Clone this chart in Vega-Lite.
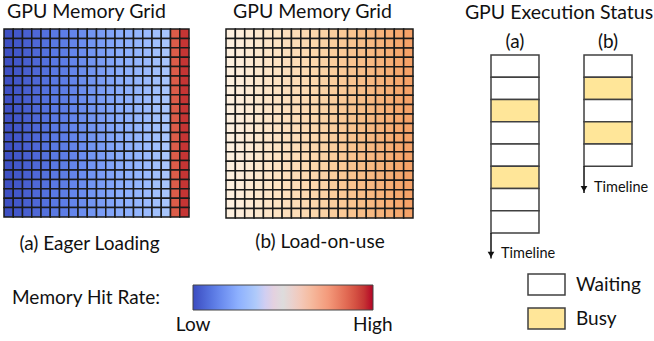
{
"$schema":"https://vega.github.io/schema/vega-lite/v6.json",
"background":"white",
"padding":{"left":3,"top":1,"right":0,"bottom":0},
"config":{"font":"Lato","view":{"stroke":null},"title":{"fontWeight":"normal","color":"#111"},"axis":{"titleColor":"#111","labelColor":"#111"},"legend":{"labelColor":"#111","titleColor":"#111"}},
"datasets":{
"gridA":[
{"r":1,"c":1,"v":0.01},{"r":1,"c":2,"v":0.03},{"r":1,"c":3,"v":0.05},{"r":1,"c":4,"v":0.07},{"r":1,"c":5,"v":0.09},{"r":1,"c":6,"v":0.11},{"r":1,"c":7,"v":0.12},{"r":1,"c":8,"v":0.14},{"r":1,"c":9,"v":0.16},{"r":1,"c":10,"v":0.18},{"r":1,"c":11,"v":0.2},{"r":1,"c":12,"v":0.22},{"r":1,"c":13,"v":0.24},{"r":1,"c":14,"v":0.25},{"r":1,"c":15,"v":0.27},{"r":1,"c":16,"v":0.29},{"r":1,"c":17,"v":0.31},{"r":1,"c":18,"v":0.33},{"r":1,"c":19,"v":0.88},{"r":1,"c":20,"v":0.95},
{"r":2,"c":1,"v":0.01},{"r":2,"c":2,"v":0.03},{"r":2,"c":3,"v":0.05},{"r":2,"c":4,"v":0.07},{"r":2,"c":5,"v":0.09},{"r":2,"c":6,"v":0.11},{"r":2,"c":7,"v":0.12},{"r":2,"c":8,"v":0.14},{"r":2,"c":9,"v":0.16},{"r":2,"c":10,"v":0.18},{"r":2,"c":11,"v":0.2},{"r":2,"c":12,"v":0.22},{"r":2,"c":13,"v":0.24},{"r":2,"c":14,"v":0.25},{"r":2,"c":15,"v":0.27},{"r":2,"c":16,"v":0.29},{"r":2,"c":17,"v":0.31},{"r":2,"c":18,"v":0.33},{"r":2,"c":19,"v":0.88},{"r":2,"c":20,"v":0.95},
{"r":3,"c":1,"v":0.01},{"r":3,"c":2,"v":0.03},{"r":3,"c":3,"v":0.05},{"r":3,"c":4,"v":0.07},{"r":3,"c":5,"v":0.09},{"r":3,"c":6,"v":0.11},{"r":3,"c":7,"v":0.12},{"r":3,"c":8,"v":0.14},{"r":3,"c":9,"v":0.16},{"r":3,"c":10,"v":0.18},{"r":3,"c":11,"v":0.2},{"r":3,"c":12,"v":0.22},{"r":3,"c":13,"v":0.24},{"r":3,"c":14,"v":0.25},{"r":3,"c":15,"v":0.27},{"r":3,"c":16,"v":0.29},{"r":3,"c":17,"v":0.31},{"r":3,"c":18,"v":0.33},{"r":3,"c":19,"v":0.88},{"r":3,"c":20,"v":0.95},
{"r":4,"c":1,"v":0.01},{"r":4,"c":2,"v":0.03},{"r":4,"c":3,"v":0.05},{"r":4,"c":4,"v":0.07},{"r":4,"c":5,"v":0.09},{"r":4,"c":6,"v":0.11},{"r":4,"c":7,"v":0.12},{"r":4,"c":8,"v":0.14},{"r":4,"c":9,"v":0.16},{"r":4,"c":10,"v":0.18},{"r":4,"c":11,"v":0.2},{"r":4,"c":12,"v":0.22},{"r":4,"c":13,"v":0.24},{"r":4,"c":14,"v":0.25},{"r":4,"c":15,"v":0.27},{"r":4,"c":16,"v":0.29},{"r":4,"c":17,"v":0.31},{"r":4,"c":18,"v":0.33},{"r":4,"c":19,"v":0.88},{"r":4,"c":20,"v":0.95},
{"r":5,"c":1,"v":0.01},{"r":5,"c":2,"v":0.03},{"r":5,"c":3,"v":0.05},{"r":5,"c":4,"v":0.07},{"r":5,"c":5,"v":0.09},{"r":5,"c":6,"v":0.11},{"r":5,"c":7,"v":0.12},{"r":5,"c":8,"v":0.14},{"r":5,"c":9,"v":0.16},{"r":5,"c":10,"v":0.18},{"r":5,"c":11,"v":0.2},{"r":5,"c":12,"v":0.22},{"r":5,"c":13,"v":0.24},{"r":5,"c":14,"v":0.25},{"r":5,"c":15,"v":0.27},{"r":5,"c":16,"v":0.29},{"r":5,"c":17,"v":0.31},{"r":5,"c":18,"v":0.33},{"r":5,"c":19,"v":0.88},{"r":5,"c":20,"v":0.95},
{"r":6,"c":1,"v":0.01},{"r":6,"c":2,"v":0.03},{"r":6,"c":3,"v":0.05},{"r":6,"c":4,"v":0.07},{"r":6,"c":5,"v":0.09},{"r":6,"c":6,"v":0.11},{"r":6,"c":7,"v":0.12},{"r":6,"c":8,"v":0.14},{"r":6,"c":9,"v":0.16},{"r":6,"c":10,"v":0.18},{"r":6,"c":11,"v":0.2},{"r":6,"c":12,"v":0.22},{"r":6,"c":13,"v":0.24},{"r":6,"c":14,"v":0.25},{"r":6,"c":15,"v":0.27},{"r":6,"c":16,"v":0.29},{"r":6,"c":17,"v":0.31},{"r":6,"c":18,"v":0.33},{"r":6,"c":19,"v":0.88},{"r":6,"c":20,"v":0.95},
{"r":7,"c":1,"v":0.01},{"r":7,"c":2,"v":0.03},{"r":7,"c":3,"v":0.05},{"r":7,"c":4,"v":0.07},{"r":7,"c":5,"v":0.09},{"r":7,"c":6,"v":0.11},{"r":7,"c":7,"v":0.12},{"r":7,"c":8,"v":0.14},{"r":7,"c":9,"v":0.16},{"r":7,"c":10,"v":0.18},{"r":7,"c":11,"v":0.2},{"r":7,"c":12,"v":0.22},{"r":7,"c":13,"v":0.24},{"r":7,"c":14,"v":0.25},{"r":7,"c":15,"v":0.27},{"r":7,"c":16,"v":0.29},{"r":7,"c":17,"v":0.31},{"r":7,"c":18,"v":0.33},{"r":7,"c":19,"v":0.88},{"r":7,"c":20,"v":0.95},
{"r":8,"c":1,"v":0.01},{"r":8,"c":2,"v":0.03},{"r":8,"c":3,"v":0.05},{"r":8,"c":4,"v":0.07},{"r":8,"c":5,"v":0.09},{"r":8,"c":6,"v":0.11},{"r":8,"c":7,"v":0.12},{"r":8,"c":8,"v":0.14},{"r":8,"c":9,"v":0.16},{"r":8,"c":10,"v":0.18},{"r":8,"c":11,"v":0.2},{"r":8,"c":12,"v":0.22},{"r":8,"c":13,"v":0.24},{"r":8,"c":14,"v":0.25},{"r":8,"c":15,"v":0.27},{"r":8,"c":16,"v":0.29},{"r":8,"c":17,"v":0.31},{"r":8,"c":18,"v":0.33},{"r":8,"c":19,"v":0.88},{"r":8,"c":20,"v":0.95},
{"r":9,"c":1,"v":0.01},{"r":9,"c":2,"v":0.03},{"r":9,"c":3,"v":0.05},{"r":9,"c":4,"v":0.07},{"r":9,"c":5,"v":0.09},{"r":9,"c":6,"v":0.11},{"r":9,"c":7,"v":0.12},{"r":9,"c":8,"v":0.14},{"r":9,"c":9,"v":0.16},{"r":9,"c":10,"v":0.18},{"r":9,"c":11,"v":0.2},{"r":9,"c":12,"v":0.22},{"r":9,"c":13,"v":0.24},{"r":9,"c":14,"v":0.25},{"r":9,"c":15,"v":0.27},{"r":9,"c":16,"v":0.29},{"r":9,"c":17,"v":0.31},{"r":9,"c":18,"v":0.33},{"r":9,"c":19,"v":0.88},{"r":9,"c":20,"v":0.95},
{"r":10,"c":1,"v":0.01},{"r":10,"c":2,"v":0.03},{"r":10,"c":3,"v":0.05},{"r":10,"c":4,"v":0.07},{"r":10,"c":5,"v":0.09},{"r":10,"c":6,"v":0.11},{"r":10,"c":7,"v":0.12},{"r":10,"c":8,"v":0.14},{"r":10,"c":9,"v":0.16},{"r":10,"c":10,"v":0.18},{"r":10,"c":11,"v":0.2},{"r":10,"c":12,"v":0.22},{"r":10,"c":13,"v":0.24},{"r":10,"c":14,"v":0.25},{"r":10,"c":15,"v":0.27},{"r":10,"c":16,"v":0.29},{"r":10,"c":17,"v":0.31},{"r":10,"c":18,"v":0.33},{"r":10,"c":19,"v":0.88},{"r":10,"c":20,"v":0.95},
{"r":11,"c":1,"v":0.01},{"r":11,"c":2,"v":0.03},{"r":11,"c":3,"v":0.05},{"r":11,"c":4,"v":0.07},{"r":11,"c":5,"v":0.09},{"r":11,"c":6,"v":0.11},{"r":11,"c":7,"v":0.12},{"r":11,"c":8,"v":0.14},{"r":11,"c":9,"v":0.16},{"r":11,"c":10,"v":0.18},{"r":11,"c":11,"v":0.2},{"r":11,"c":12,"v":0.22},{"r":11,"c":13,"v":0.24},{"r":11,"c":14,"v":0.25},{"r":11,"c":15,"v":0.27},{"r":11,"c":16,"v":0.29},{"r":11,"c":17,"v":0.31},{"r":11,"c":18,"v":0.33},{"r":11,"c":19,"v":0.88},{"r":11,"c":20,"v":0.95},
{"r":12,"c":1,"v":0.01},{"r":12,"c":2,"v":0.03},{"r":12,"c":3,"v":0.05},{"r":12,"c":4,"v":0.07},{"r":12,"c":5,"v":0.09},{"r":12,"c":6,"v":0.11},{"r":12,"c":7,"v":0.12},{"r":12,"c":8,"v":0.14},{"r":12,"c":9,"v":0.16},{"r":12,"c":10,"v":0.18},{"r":12,"c":11,"v":0.2},{"r":12,"c":12,"v":0.22},{"r":12,"c":13,"v":0.24},{"r":12,"c":14,"v":0.25},{"r":12,"c":15,"v":0.27},{"r":12,"c":16,"v":0.29},{"r":12,"c":17,"v":0.31},{"r":12,"c":18,"v":0.33},{"r":12,"c":19,"v":0.88},{"r":12,"c":20,"v":0.95},
{"r":13,"c":1,"v":0.01},{"r":13,"c":2,"v":0.03},{"r":13,"c":3,"v":0.05},{"r":13,"c":4,"v":0.07},{"r":13,"c":5,"v":0.09},{"r":13,"c":6,"v":0.11},{"r":13,"c":7,"v":0.12},{"r":13,"c":8,"v":0.14},{"r":13,"c":9,"v":0.16},{"r":13,"c":10,"v":0.18},{"r":13,"c":11,"v":0.2},{"r":13,"c":12,"v":0.22},{"r":13,"c":13,"v":0.24},{"r":13,"c":14,"v":0.25},{"r":13,"c":15,"v":0.27},{"r":13,"c":16,"v":0.29},{"r":13,"c":17,"v":0.31},{"r":13,"c":18,"v":0.33},{"r":13,"c":19,"v":0.88},{"r":13,"c":20,"v":0.95},
{"r":14,"c":1,"v":0.01},{"r":14,"c":2,"v":0.03},{"r":14,"c":3,"v":0.05},{"r":14,"c":4,"v":0.07},{"r":14,"c":5,"v":0.09},{"r":14,"c":6,"v":0.11},{"r":14,"c":7,"v":0.12},{"r":14,"c":8,"v":0.14},{"r":14,"c":9,"v":0.16},{"r":14,"c":10,"v":0.18},{"r":14,"c":11,"v":0.2},{"r":14,"c":12,"v":0.22},{"r":14,"c":13,"v":0.24},{"r":14,"c":14,"v":0.25},{"r":14,"c":15,"v":0.27},{"r":14,"c":16,"v":0.29},{"r":14,"c":17,"v":0.31},{"r":14,"c":18,"v":0.33},{"r":14,"c":19,"v":0.88},{"r":14,"c":20,"v":0.95},
{"r":15,"c":1,"v":0.01},{"r":15,"c":2,"v":0.03},{"r":15,"c":3,"v":0.05},{"r":15,"c":4,"v":0.07},{"r":15,"c":5,"v":0.09},{"r":15,"c":6,"v":0.11},{"r":15,"c":7,"v":0.12},{"r":15,"c":8,"v":0.14},{"r":15,"c":9,"v":0.16},{"r":15,"c":10,"v":0.18},{"r":15,"c":11,"v":0.2},{"r":15,"c":12,"v":0.22},{"r":15,"c":13,"v":0.24},{"r":15,"c":14,"v":0.25},{"r":15,"c":15,"v":0.27},{"r":15,"c":16,"v":0.29},{"r":15,"c":17,"v":0.31},{"r":15,"c":18,"v":0.33},{"r":15,"c":19,"v":0.88},{"r":15,"c":20,"v":0.95},
{"r":16,"c":1,"v":0.01},{"r":16,"c":2,"v":0.03},{"r":16,"c":3,"v":0.05},{"r":16,"c":4,"v":0.07},{"r":16,"c":5,"v":0.09},{"r":16,"c":6,"v":0.11},{"r":16,"c":7,"v":0.12},{"r":16,"c":8,"v":0.14},{"r":16,"c":9,"v":0.16},{"r":16,"c":10,"v":0.18},{"r":16,"c":11,"v":0.2},{"r":16,"c":12,"v":0.22},{"r":16,"c":13,"v":0.24},{"r":16,"c":14,"v":0.25},{"r":16,"c":15,"v":0.27},{"r":16,"c":16,"v":0.29},{"r":16,"c":17,"v":0.31},{"r":16,"c":18,"v":0.33},{"r":16,"c":19,"v":0.88},{"r":16,"c":20,"v":0.95},
{"r":17,"c":1,"v":0.01},{"r":17,"c":2,"v":0.03},{"r":17,"c":3,"v":0.05},{"r":17,"c":4,"v":0.07},{"r":17,"c":5,"v":0.09},{"r":17,"c":6,"v":0.11},{"r":17,"c":7,"v":0.12},{"r":17,"c":8,"v":0.14},{"r":17,"c":9,"v":0.16},{"r":17,"c":10,"v":0.18},{"r":17,"c":11,"v":0.2},{"r":17,"c":12,"v":0.22},{"r":17,"c":13,"v":0.24},{"r":17,"c":14,"v":0.25},{"r":17,"c":15,"v":0.27},{"r":17,"c":16,"v":0.29},{"r":17,"c":17,"v":0.31},{"r":17,"c":18,"v":0.33},{"r":17,"c":19,"v":0.88},{"r":17,"c":20,"v":0.95},
{"r":18,"c":1,"v":0.01},{"r":18,"c":2,"v":0.03},{"r":18,"c":3,"v":0.05},{"r":18,"c":4,"v":0.07},{"r":18,"c":5,"v":0.09},{"r":18,"c":6,"v":0.11},{"r":18,"c":7,"v":0.12},{"r":18,"c":8,"v":0.14},{"r":18,"c":9,"v":0.16},{"r":18,"c":10,"v":0.18},{"r":18,"c":11,"v":0.2},{"r":18,"c":12,"v":0.22},{"r":18,"c":13,"v":0.24},{"r":18,"c":14,"v":0.25},{"r":18,"c":15,"v":0.27},{"r":18,"c":16,"v":0.29},{"r":18,"c":17,"v":0.31},{"r":18,"c":18,"v":0.33},{"r":18,"c":19,"v":0.88},{"r":18,"c":20,"v":0.95},
{"r":19,"c":1,"v":0.01},{"r":19,"c":2,"v":0.03},{"r":19,"c":3,"v":0.05},{"r":19,"c":4,"v":0.07},{"r":19,"c":5,"v":0.09},{"r":19,"c":6,"v":0.11},{"r":19,"c":7,"v":0.12},{"r":19,"c":8,"v":0.14},{"r":19,"c":9,"v":0.16},{"r":19,"c":10,"v":0.18},{"r":19,"c":11,"v":0.2},{"r":19,"c":12,"v":0.22},{"r":19,"c":13,"v":0.24},{"r":19,"c":14,"v":0.25},{"r":19,"c":15,"v":0.27},{"r":19,"c":16,"v":0.29},{"r":19,"c":17,"v":0.31},{"r":19,"c":18,"v":0.33},{"r":19,"c":19,"v":0.88},{"r":19,"c":20,"v":0.95},
{"r":20,"c":1,"v":0.01},{"r":20,"c":2,"v":0.03},{"r":20,"c":3,"v":0.05},{"r":20,"c":4,"v":0.07},{"r":20,"c":5,"v":0.09},{"r":20,"c":6,"v":0.11},{"r":20,"c":7,"v":0.12},{"r":20,"c":8,"v":0.14},{"r":20,"c":9,"v":0.16},{"r":20,"c":10,"v":0.18},{"r":20,"c":11,"v":0.2},{"r":20,"c":12,"v":0.22},{"r":20,"c":13,"v":0.24},{"r":20,"c":14,"v":0.25},{"r":20,"c":15,"v":0.27},{"r":20,"c":16,"v":0.29},{"r":20,"c":17,"v":0.31},{"r":20,"c":18,"v":0.33},{"r":20,"c":19,"v":0.88},{"r":20,"c":20,"v":0.95}
],
"gridB":[
{"r":1,"c":1,"v":0},{"r":1,"c":2,"v":0.05},{"r":1,"c":3,"v":0.11},{"r":1,"c":4,"v":0.16},{"r":1,"c":5,"v":0.21},{"r":1,"c":6,"v":0.26},{"r":1,"c":7,"v":0.32},{"r":1,"c":8,"v":0.37},{"r":1,"c":9,"v":0.42},{"r":1,"c":10,"v":0.47},{"r":1,"c":11,"v":0.53},{"r":1,"c":12,"v":0.58},{"r":1,"c":13,"v":0.63},{"r":1,"c":14,"v":0.68},{"r":1,"c":15,"v":0.74},{"r":1,"c":16,"v":0.79},{"r":1,"c":17,"v":0.84},{"r":1,"c":18,"v":0.89},{"r":1,"c":19,"v":0.95},{"r":1,"c":20,"v":1},
{"r":2,"c":1,"v":0},{"r":2,"c":2,"v":0.05},{"r":2,"c":3,"v":0.11},{"r":2,"c":4,"v":0.16},{"r":2,"c":5,"v":0.21},{"r":2,"c":6,"v":0.26},{"r":2,"c":7,"v":0.32},{"r":2,"c":8,"v":0.37},{"r":2,"c":9,"v":0.42},{"r":2,"c":10,"v":0.47},{"r":2,"c":11,"v":0.53},{"r":2,"c":12,"v":0.58},{"r":2,"c":13,"v":0.63},{"r":2,"c":14,"v":0.68},{"r":2,"c":15,"v":0.74},{"r":2,"c":16,"v":0.79},{"r":2,"c":17,"v":0.84},{"r":2,"c":18,"v":0.89},{"r":2,"c":19,"v":0.95},{"r":2,"c":20,"v":1},
{"r":3,"c":1,"v":0},{"r":3,"c":2,"v":0.05},{"r":3,"c":3,"v":0.11},{"r":3,"c":4,"v":0.16},{"r":3,"c":5,"v":0.21},{"r":3,"c":6,"v":0.26},{"r":3,"c":7,"v":0.32},{"r":3,"c":8,"v":0.37},{"r":3,"c":9,"v":0.42},{"r":3,"c":10,"v":0.47},{"r":3,"c":11,"v":0.53},{"r":3,"c":12,"v":0.58},{"r":3,"c":13,"v":0.63},{"r":3,"c":14,"v":0.68},{"r":3,"c":15,"v":0.74},{"r":3,"c":16,"v":0.79},{"r":3,"c":17,"v":0.84},{"r":3,"c":18,"v":0.89},{"r":3,"c":19,"v":0.95},{"r":3,"c":20,"v":1},
{"r":4,"c":1,"v":0},{"r":4,"c":2,"v":0.05},{"r":4,"c":3,"v":0.11},{"r":4,"c":4,"v":0.16},{"r":4,"c":5,"v":0.21},{"r":4,"c":6,"v":0.26},{"r":4,"c":7,"v":0.32},{"r":4,"c":8,"v":0.37},{"r":4,"c":9,"v":0.42},{"r":4,"c":10,"v":0.47},{"r":4,"c":11,"v":0.53},{"r":4,"c":12,"v":0.58},{"r":4,"c":13,"v":0.63},{"r":4,"c":14,"v":0.68},{"r":4,"c":15,"v":0.74},{"r":4,"c":16,"v":0.79},{"r":4,"c":17,"v":0.84},{"r":4,"c":18,"v":0.89},{"r":4,"c":19,"v":0.95},{"r":4,"c":20,"v":1},
{"r":5,"c":1,"v":0},{"r":5,"c":2,"v":0.05},{"r":5,"c":3,"v":0.11},{"r":5,"c":4,"v":0.16},{"r":5,"c":5,"v":0.21},{"r":5,"c":6,"v":0.26},{"r":5,"c":7,"v":0.32},{"r":5,"c":8,"v":0.37},{"r":5,"c":9,"v":0.42},{"r":5,"c":10,"v":0.47},{"r":5,"c":11,"v":0.53},{"r":5,"c":12,"v":0.58},{"r":5,"c":13,"v":0.63},{"r":5,"c":14,"v":0.68},{"r":5,"c":15,"v":0.74},{"r":5,"c":16,"v":0.79},{"r":5,"c":17,"v":0.84},{"r":5,"c":18,"v":0.89},{"r":5,"c":19,"v":0.95},{"r":5,"c":20,"v":1},
{"r":6,"c":1,"v":0},{"r":6,"c":2,"v":0.05},{"r":6,"c":3,"v":0.11},{"r":6,"c":4,"v":0.16},{"r":6,"c":5,"v":0.21},{"r":6,"c":6,"v":0.26},{"r":6,"c":7,"v":0.32},{"r":6,"c":8,"v":0.37},{"r":6,"c":9,"v":0.42},{"r":6,"c":10,"v":0.47},{"r":6,"c":11,"v":0.53},{"r":6,"c":12,"v":0.58},{"r":6,"c":13,"v":0.63},{"r":6,"c":14,"v":0.68},{"r":6,"c":15,"v":0.74},{"r":6,"c":16,"v":0.79},{"r":6,"c":17,"v":0.84},{"r":6,"c":18,"v":0.89},{"r":6,"c":19,"v":0.95},{"r":6,"c":20,"v":1},
{"r":7,"c":1,"v":0},{"r":7,"c":2,"v":0.05},{"r":7,"c":3,"v":0.11},{"r":7,"c":4,"v":0.16},{"r":7,"c":5,"v":0.21},{"r":7,"c":6,"v":0.26},{"r":7,"c":7,"v":0.32},{"r":7,"c":8,"v":0.37},{"r":7,"c":9,"v":0.42},{"r":7,"c":10,"v":0.47},{"r":7,"c":11,"v":0.53},{"r":7,"c":12,"v":0.58},{"r":7,"c":13,"v":0.63},{"r":7,"c":14,"v":0.68},{"r":7,"c":15,"v":0.74},{"r":7,"c":16,"v":0.79},{"r":7,"c":17,"v":0.84},{"r":7,"c":18,"v":0.89},{"r":7,"c":19,"v":0.95},{"r":7,"c":20,"v":1},
{"r":8,"c":1,"v":0},{"r":8,"c":2,"v":0.05},{"r":8,"c":3,"v":0.11},{"r":8,"c":4,"v":0.16},{"r":8,"c":5,"v":0.21},{"r":8,"c":6,"v":0.26},{"r":8,"c":7,"v":0.32},{"r":8,"c":8,"v":0.37},{"r":8,"c":9,"v":0.42},{"r":8,"c":10,"v":0.47},{"r":8,"c":11,"v":0.53},{"r":8,"c":12,"v":0.58},{"r":8,"c":13,"v":0.63},{"r":8,"c":14,"v":0.68},{"r":8,"c":15,"v":0.74},{"r":8,"c":16,"v":0.79},{"r":8,"c":17,"v":0.84},{"r":8,"c":18,"v":0.89},{"r":8,"c":19,"v":0.95},{"r":8,"c":20,"v":1},
{"r":9,"c":1,"v":0},{"r":9,"c":2,"v":0.05},{"r":9,"c":3,"v":0.11},{"r":9,"c":4,"v":0.16},{"r":9,"c":5,"v":0.21},{"r":9,"c":6,"v":0.26},{"r":9,"c":7,"v":0.32},{"r":9,"c":8,"v":0.37},{"r":9,"c":9,"v":0.42},{"r":9,"c":10,"v":0.47},{"r":9,"c":11,"v":0.53},{"r":9,"c":12,"v":0.58},{"r":9,"c":13,"v":0.63},{"r":9,"c":14,"v":0.68},{"r":9,"c":15,"v":0.74},{"r":9,"c":16,"v":0.79},{"r":9,"c":17,"v":0.84},{"r":9,"c":18,"v":0.89},{"r":9,"c":19,"v":0.95},{"r":9,"c":20,"v":1},
{"r":10,"c":1,"v":0},{"r":10,"c":2,"v":0.05},{"r":10,"c":3,"v":0.11},{"r":10,"c":4,"v":0.16},{"r":10,"c":5,"v":0.21},{"r":10,"c":6,"v":0.26},{"r":10,"c":7,"v":0.32},{"r":10,"c":8,"v":0.37},{"r":10,"c":9,"v":0.42},{"r":10,"c":10,"v":0.47},{"r":10,"c":11,"v":0.53},{"r":10,"c":12,"v":0.58},{"r":10,"c":13,"v":0.63},{"r":10,"c":14,"v":0.68},{"r":10,"c":15,"v":0.74},{"r":10,"c":16,"v":0.79},{"r":10,"c":17,"v":0.84},{"r":10,"c":18,"v":0.89},{"r":10,"c":19,"v":0.95},{"r":10,"c":20,"v":1},
{"r":11,"c":1,"v":0},{"r":11,"c":2,"v":0.05},{"r":11,"c":3,"v":0.11},{"r":11,"c":4,"v":0.16},{"r":11,"c":5,"v":0.21},{"r":11,"c":6,"v":0.26},{"r":11,"c":7,"v":0.32},{"r":11,"c":8,"v":0.37},{"r":11,"c":9,"v":0.42},{"r":11,"c":10,"v":0.47},{"r":11,"c":11,"v":0.53},{"r":11,"c":12,"v":0.58},{"r":11,"c":13,"v":0.63},{"r":11,"c":14,"v":0.68},{"r":11,"c":15,"v":0.74},{"r":11,"c":16,"v":0.79},{"r":11,"c":17,"v":0.84},{"r":11,"c":18,"v":0.89},{"r":11,"c":19,"v":0.95},{"r":11,"c":20,"v":1},
{"r":12,"c":1,"v":0},{"r":12,"c":2,"v":0.05},{"r":12,"c":3,"v":0.11},{"r":12,"c":4,"v":0.16},{"r":12,"c":5,"v":0.21},{"r":12,"c":6,"v":0.26},{"r":12,"c":7,"v":0.32},{"r":12,"c":8,"v":0.37},{"r":12,"c":9,"v":0.42},{"r":12,"c":10,"v":0.47},{"r":12,"c":11,"v":0.53},{"r":12,"c":12,"v":0.58},{"r":12,"c":13,"v":0.63},{"r":12,"c":14,"v":0.68},{"r":12,"c":15,"v":0.74},{"r":12,"c":16,"v":0.79},{"r":12,"c":17,"v":0.84},{"r":12,"c":18,"v":0.89},{"r":12,"c":19,"v":0.95},{"r":12,"c":20,"v":1},
{"r":13,"c":1,"v":0},{"r":13,"c":2,"v":0.05},{"r":13,"c":3,"v":0.11},{"r":13,"c":4,"v":0.16},{"r":13,"c":5,"v":0.21},{"r":13,"c":6,"v":0.26},{"r":13,"c":7,"v":0.32},{"r":13,"c":8,"v":0.37},{"r":13,"c":9,"v":0.42},{"r":13,"c":10,"v":0.47},{"r":13,"c":11,"v":0.53},{"r":13,"c":12,"v":0.58},{"r":13,"c":13,"v":0.63},{"r":13,"c":14,"v":0.68},{"r":13,"c":15,"v":0.74},{"r":13,"c":16,"v":0.79},{"r":13,"c":17,"v":0.84},{"r":13,"c":18,"v":0.89},{"r":13,"c":19,"v":0.95},{"r":13,"c":20,"v":1},
{"r":14,"c":1,"v":0},{"r":14,"c":2,"v":0.05},{"r":14,"c":3,"v":0.11},{"r":14,"c":4,"v":0.16},{"r":14,"c":5,"v":0.21},{"r":14,"c":6,"v":0.26},{"r":14,"c":7,"v":0.32},{"r":14,"c":8,"v":0.37},{"r":14,"c":9,"v":0.42},{"r":14,"c":10,"v":0.47},{"r":14,"c":11,"v":0.53},{"r":14,"c":12,"v":0.58},{"r":14,"c":13,"v":0.63},{"r":14,"c":14,"v":0.68},{"r":14,"c":15,"v":0.74},{"r":14,"c":16,"v":0.79},{"r":14,"c":17,"v":0.84},{"r":14,"c":18,"v":0.89},{"r":14,"c":19,"v":0.95},{"r":14,"c":20,"v":1},
{"r":15,"c":1,"v":0},{"r":15,"c":2,"v":0.05},{"r":15,"c":3,"v":0.11},{"r":15,"c":4,"v":0.16},{"r":15,"c":5,"v":0.21},{"r":15,"c":6,"v":0.26},{"r":15,"c":7,"v":0.32},{"r":15,"c":8,"v":0.37},{"r":15,"c":9,"v":0.42},{"r":15,"c":10,"v":0.47},{"r":15,"c":11,"v":0.53},{"r":15,"c":12,"v":0.58},{"r":15,"c":13,"v":0.63},{"r":15,"c":14,"v":0.68},{"r":15,"c":15,"v":0.74},{"r":15,"c":16,"v":0.79},{"r":15,"c":17,"v":0.84},{"r":15,"c":18,"v":0.89},{"r":15,"c":19,"v":0.95},{"r":15,"c":20,"v":1},
{"r":16,"c":1,"v":0},{"r":16,"c":2,"v":0.05},{"r":16,"c":3,"v":0.11},{"r":16,"c":4,"v":0.16},{"r":16,"c":5,"v":0.21},{"r":16,"c":6,"v":0.26},{"r":16,"c":7,"v":0.32},{"r":16,"c":8,"v":0.37},{"r":16,"c":9,"v":0.42},{"r":16,"c":10,"v":0.47},{"r":16,"c":11,"v":0.53},{"r":16,"c":12,"v":0.58},{"r":16,"c":13,"v":0.63},{"r":16,"c":14,"v":0.68},{"r":16,"c":15,"v":0.74},{"r":16,"c":16,"v":0.79},{"r":16,"c":17,"v":0.84},{"r":16,"c":18,"v":0.89},{"r":16,"c":19,"v":0.95},{"r":16,"c":20,"v":1},
{"r":17,"c":1,"v":0},{"r":17,"c":2,"v":0.05},{"r":17,"c":3,"v":0.11},{"r":17,"c":4,"v":0.16},{"r":17,"c":5,"v":0.21},{"r":17,"c":6,"v":0.26},{"r":17,"c":7,"v":0.32},{"r":17,"c":8,"v":0.37},{"r":17,"c":9,"v":0.42},{"r":17,"c":10,"v":0.47},{"r":17,"c":11,"v":0.53},{"r":17,"c":12,"v":0.58},{"r":17,"c":13,"v":0.63},{"r":17,"c":14,"v":0.68},{"r":17,"c":15,"v":0.74},{"r":17,"c":16,"v":0.79},{"r":17,"c":17,"v":0.84},{"r":17,"c":18,"v":0.89},{"r":17,"c":19,"v":0.95},{"r":17,"c":20,"v":1},
{"r":18,"c":1,"v":0},{"r":18,"c":2,"v":0.05},{"r":18,"c":3,"v":0.11},{"r":18,"c":4,"v":0.16},{"r":18,"c":5,"v":0.21},{"r":18,"c":6,"v":0.26},{"r":18,"c":7,"v":0.32},{"r":18,"c":8,"v":0.37},{"r":18,"c":9,"v":0.42},{"r":18,"c":10,"v":0.47},{"r":18,"c":11,"v":0.53},{"r":18,"c":12,"v":0.58},{"r":18,"c":13,"v":0.63},{"r":18,"c":14,"v":0.68},{"r":18,"c":15,"v":0.74},{"r":18,"c":16,"v":0.79},{"r":18,"c":17,"v":0.84},{"r":18,"c":18,"v":0.89},{"r":18,"c":19,"v":0.95},{"r":18,"c":20,"v":1},
{"r":19,"c":1,"v":0},{"r":19,"c":2,"v":0.05},{"r":19,"c":3,"v":0.11},{"r":19,"c":4,"v":0.16},{"r":19,"c":5,"v":0.21},{"r":19,"c":6,"v":0.26},{"r":19,"c":7,"v":0.32},{"r":19,"c":8,"v":0.37},{"r":19,"c":9,"v":0.42},{"r":19,"c":10,"v":0.47},{"r":19,"c":11,"v":0.53},{"r":19,"c":12,"v":0.58},{"r":19,"c":13,"v":0.63},{"r":19,"c":14,"v":0.68},{"r":19,"c":15,"v":0.74},{"r":19,"c":16,"v":0.79},{"r":19,"c":17,"v":0.84},{"r":19,"c":18,"v":0.89},{"r":19,"c":19,"v":0.95},{"r":19,"c":20,"v":1},
{"r":20,"c":1,"v":0},{"r":20,"c":2,"v":0.05},{"r":20,"c":3,"v":0.11},{"r":20,"c":4,"v":0.16},{"r":20,"c":5,"v":0.21},{"r":20,"c":6,"v":0.26},{"r":20,"c":7,"v":0.32},{"r":20,"c":8,"v":0.37},{"r":20,"c":9,"v":0.42},{"r":20,"c":10,"v":0.47},{"r":20,"c":11,"v":0.53},{"r":20,"c":12,"v":0.58},{"r":20,"c":13,"v":0.63},{"r":20,"c":14,"v":0.68},{"r":20,"c":15,"v":0.74},{"r":20,"c":16,"v":0.79},{"r":20,"c":17,"v":0.84},{"r":20,"c":18,"v":0.89},{"r":20,"c":19,"v":0.95},{"r":20,"c":20,"v":1}
],
"status":[
{"lane":"a","t0":0,"t1":1,"status":"Waiting"},{"lane":"a","t0":1,"t1":2,"status":"Waiting"},{"lane":"a","t0":2,"t1":3,"status":"Busy"},{"lane":"a","t0":3,"t1":4,"status":"Waiting"},{"lane":"a","t0":4,"t1":5,"status":"Waiting"},{"lane":"a","t0":5,"t1":6,"status":"Busy"},{"lane":"a","t0":6,"t1":7,"status":"Waiting"},{"lane":"a","t0":7,"t1":8,"status":"Waiting"},
{"lane":"b","t0":0,"t1":1,"status":"Waiting"},{"lane":"b","t0":1,"t1":2,"status":"Busy"},{"lane":"b","t0":2,"t1":3,"status":"Waiting"},{"lane":"b","t0":3,"t1":4,"status":"Busy"},{"lane":"b","t0":4,"t1":5,"status":"Waiting"}
],
"arrows":[
{"lane":"a","from":8,"to":9.15,"label":"Timeline"},{"lane":"b","from":5,"to":6.2,"label":"Timeline"}
]
},
"resolve":{"scale":{"color":"independent","x":"independent","y":"independent"},"legend":{"color":"independent"}},
"bounds":"flush",
"spacing":37,
"hconcat":[
{
"width":185,"height":188,
"data":{"name":"gridA"},
"title":{"text":"GPU Memory Grid","fontSize":19.5,"offset":6,"frame":"group","dx":-10},
"mark":{"type":"rect","stroke":"#1a1a1a","strokeWidth":1.5},
"encoding":{
"x":{"field":"c","type":"ordinal","scale":{"paddingInner":0,"paddingOuter":0},"axis":{"title":"(a) Eager Loading","labels":false,"ticks":false,"domain":false,"titleFontSize":19,"titleFontWeight":"normal","titlePadding":17,"titleX":85}},
"y":{"field":"r","type":"ordinal","scale":{"paddingInner":0,"paddingOuter":0},"axis":null},
"color":{"field":"v","type":"quantitative",
"scale":{"domain":[0,0.125,0.25,0.375,0.5,0.625,0.75,0.875,1],"range":["#3b4cc0","#5f7fe8","#8db0fe","#b8d0f9","#dddcdc","#f5c4ac","#f49a7b","#dd5f4b","#b40426"]},
"legend":{"orient":"none","legendX":8,"legendY":256,"direction":"horizontal","title":"Memory Hit Rate:","titleOrient":"left","titleFontSize":19,"titleFontWeight":"normal","titlePadding":32,"titleAngle":0,"titleBaseline":"middle","gradientLength":180,"gradientThickness":25,"gradientStrokeColor":"#444","gradientStrokeWidth":1,"values":[0.001,0.999],"labelExpr":"datum.value < 0.5 ? 'Low' : 'High'","labelFontSize":19,"labelOffset":6,"labelOverlap":false}}
}
},
{
"width":187,"height":189,
"data":{"name":"gridB"},
"title":{"text":"GPU Memory Grid","fontSize":19.5,"offset":6,"frame":"group","dx":-7},
"mark":{"type":"rect","stroke":"#1a1a1a","strokeWidth":1.5},
"encoding":{
"x":{"field":"c","type":"ordinal","scale":{"paddingInner":0,"paddingOuter":0},"axis":{"title":"(b) Load-on-use","labels":false,"ticks":false,"domain":false,"titleFontSize":19,"titleFontWeight":"normal","titlePadding":14}},
"y":{"field":"r","type":"ordinal","scale":{"paddingInner":0,"paddingOuter":0},"axis":null},
"color":{"field":"v","type":"quantitative","scale":{"domain":[0,0.5,1],"range":["#fef0df","#fcd6aa","#f4a268"]},"legend":null}
}
},
{
"width":190,"height":232,
"title":{"text":"GPU Execution Status","fontSize":19.5,"offset":6,"frame":"group","dx":14},
"layer":[
{
"data":{"name":"status"},
"mark":{"type":"rect","stroke":"#404040","strokeWidth":1.5},
"encoding":{
"x":{"field":"lane","type":"nominal","scale":{"range":[41,182],"paddingInner":0.484,"paddingOuter":0},"axis":{"orient":"top","title":null,"domain":false,"ticks":false,"labelFontSize":19,"labelAngle":0,"labelPadding":0,"offset":-22,"labelExpr":"'(' + datum.label + ')'"}},
"y":{"field":"t0","type":"quantitative","scale":{"domain":[0,8],"range":[26,204]},"axis":null},
"y2":{"field":"t1"},
"color":{"field":"status","type":"nominal","scale":{"domain":["Waiting","Busy"],"range":["#ffffff","#ffe699"]},
"legend":{"orient":"none","legendX":77,"legendY":236,"title":null,"symbolType":"M-1,-0.57H1V0.57H-1Z","symbolSize":1369,"symbolStrokeColor":"#404040","symbolStrokeWidth":1.5,"symbolOpacity":1,"labelFontSize":19,"labelOffset":10,"rowPadding":-3}}
}
},
{
"data":{"name":"arrows"},
"mark":{"type":"rule","stroke":"#111","strokeWidth":1.5},
"encoding":{
"x":{"field":"lane","type":"nominal","bandPosition":0},
"y":{"field":"from","type":"quantitative"},
"y2":{"field":"to"}
}
},
{
"data":{"name":"arrows"},
"mark":{"type":"point","shape":"triangle-down","filled":true,"size":45,"color":"#111","opacity":1,"yOffset":-4},
"encoding":{
"x":{"field":"lane","type":"nominal","bandPosition":0},
"y":{"field":"to","type":"quantitative"}
}
},
{
"data":{"name":"arrows"},
"mark":{"type":"text","align":"left","baseline":"middle","dx":10,"dy":-5,"fontSize":14.5,"color":"#111"},
"encoding":{
"x":{"field":"lane","type":"nominal","bandPosition":0},
"y":{"field":"to","type":"quantitative"},
"text":{"field":"label"}
}
}
]
}
]
}
